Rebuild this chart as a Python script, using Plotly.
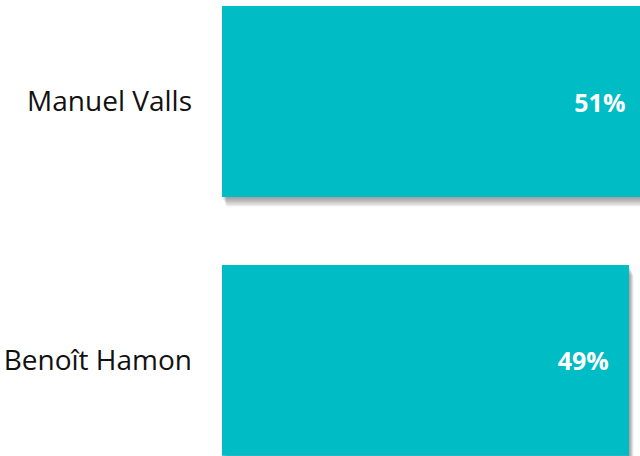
import plotly.graph_objects as go

candidates = ["Benoît Hamon", "Manuel Valls"]
scores = [49, 51]

BAR = "#00BCC5"
fig = go.Figure()

# soft shadow layers (offsets in px, converted to axis units)
PX_X = 8.306
PX_Y = 259.0
for k in range(1, 7):
    dx = k * 0.75 / PX_X
    dy = k * 1.6 / PX_Y
    fig.add_trace(go.Bar(
        y=candidates, x=scores, orientation="h",
        base=dx, width=0.737, offset=-0.737 / 2 - dy,
        marker=dict(color="rgba(0,0,0,0.07)", line=dict(width=0)),
        hoverinfo="skip", showlegend=False,
    ))

fig.add_trace(go.Bar(
    y=candidates, x=scores, orientation="h", width=0.737,
    marker=dict(color=BAR, line=dict(width=0)),
    texttemplate="<b>%{x}%</b>\u00a0\u00a0\u2009",
    textposition="inside", insidetextanchor="end",
    textfont=dict(family="Open Sans", size=25, color="white"),
    showlegend=False,
))

fig.update_layout(
    width=640, height=456,
    margin=dict(l=222, r=0, t=0, b=0),
    paper_bgcolor="white", plot_bgcolor="white",
    barmode="overlay",
    xaxis=dict(range=[0, 50.33], visible=False, fixedrange=True),
    yaxis=dict(type="category", categoryorder="array", categoryarray=candidates,
               range=[-0.369, 1.392], showgrid=False, zeroline=False, showline=False,
               ticks="", ticklabelstandoff=29, fixedrange=True,
               tickfont=dict(family="Open Sans", size=28, color="#111111")),
)

fig.write_html("out.html", config={"displayModeBar": False},
               post_script="document.body.style.margin='0';")
